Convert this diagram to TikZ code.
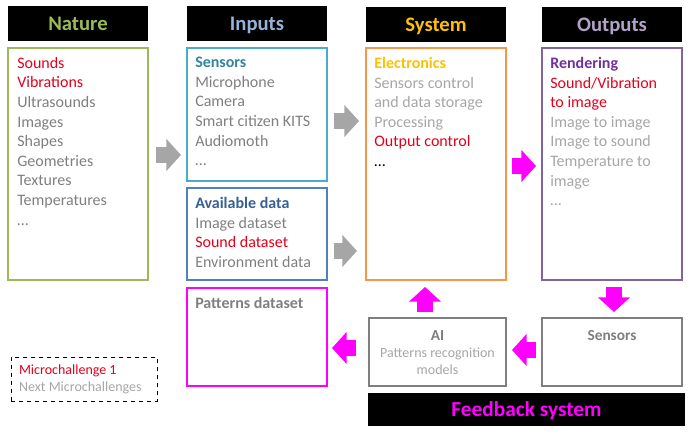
\documentclass[tikz,border=0pt]{standalone}
\usepackage{fontspec}
\setmainfont{Carlito}
\usetikzlibrary{positioning}
\usetikzlibrary{arrows.meta}
\definecolor{natgreen}{HTML}{9BBB59}
\definecolor{inhdr}{HTML}{95B3D7}
\definecolor{inblue}{HTML}{4BACC6}
\definecolor{inbluetxt}{HTML}{31859C}
\definecolor{datablue}{HTML}{4F81BD}
\definecolor{datatxt}{HTML}{376092}
\definecolor{sysorange}{HTML}{F79646}
\definecolor{sysyellow}{HTML}{FFC000}
\definecolor{outpurple}{HTML}{8064A2}
\definecolor{outtxt}{HTML}{7030A0}
\definecolor{outhdr}{HTML}{B3A2C7}
\definecolor{txtred}{HTML}{E3001A}
\definecolor{txtgray}{HTML}{7F7F7F}
\definecolor{txtlight}{HTML}{A6A6A6}
\definecolor{magen}{HTML}{FF00FF}
\tikzset{
    hdrnode/.style = {rectangle, fill=black, inner sep=0, minimum width=105pt, minimum height=26.25pt, text height=11pt, text depth=0pt, font=\fontsize{15.5}{17}\selectfont\bfseries},
    boxnode/.style = {rectangle, line width=1.5pt, inner sep=0, minimum width=105pt},
    listnode/.style = {anchor=north west, inner sep=0, align=left, text=txtgray, font=\fontsize{12}{14.7}\selectfont},
    edgeg/.style = {draw=txtlight, line width=11.5pt, -{Triangle[length=11pt,width=23.5pt]}},
    edgem/.style = {draw=magen, line width=12pt, -{Triangle[length=11pt,width=23.5pt]}}
}
\begin{document}
\begin{tikzpicture}[x=0.75pt, y=-0.75pt]
  \useasboundingbox (0,0) rectangle (693,437);
  % headers
  \node[hdrnode, text=natgreen] (hnature) at (78,23.5) {Nature};
  \node[hdrnode, text=inhdr] (hinputs) at (257,23.5) {Inputs};
  \node[hdrnode, text=sysyellow] (hsystem) at (436,24) {System};
  \node[hdrnode, text=outhdr] (houtputs) at (612,24.5) {Outputs};
  % boxes
  \node[boxnode, draw=natgreen, minimum height=174pt] (nature) at (78,164) {};
  \node[boxnode, draw=inblue, minimum height=99.75pt] (sensors) at (257,114.5) {};
  \node[boxnode, draw=datablue, minimum height=69pt] (avail) at (257,234) {};
  \node[boxnode, draw=magen, minimum height=73.5pt] (patterns) at (257,337) {};
  \node[boxnode, draw=sysorange, minimum height=174pt] (system) at (436,164) {};
  \node[boxnode, draw=outpurple, minimum height=174pt] (outputs) at (612,164) {};
  \node[boxnode, draw=txtgray, minimum width=102.75pt, minimum height=51pt] (ai) at (437.5,352) {};
  \node[boxnode, draw=txtgray, minimum height=51pt] (sensfb) at (612,352) {};
  \node[hdrnode, text=magen, minimum width=237.75pt, minimum height=24.75pt, font=\fontsize{16}{18}\selectfont\bfseries] (feedback) at (526.5,409.5) {Feedback system};
  \node[rectangle, draw=black, dashed, thin, minimum width=109.5pt, minimum height=33pt] (legend) at (84,379) {};
  % texts
  \node[listnode] (naturetxt) at ([shift={(10,10)}]nature.north west)
    {\textcolor{txtred}{Sounds}\\\textcolor{txtred}{Vibrations}\\Ultrasounds\\Images\\Shapes\\Geometries\\Textures\\Temperatures\\\ldots};
  \node[listnode] (sensorstxt) at ([shift={(9,10)}]sensors.north west)
    {\textcolor{inbluetxt}{\bfseries Sensors}\\Microphone\\Camera\\Smart citizen KITS\\Audiomoth\\\ldots};
  \node[listnode] (availtxt) at ([shift={(9,10)}]avail.north west)
    {\textcolor{datatxt}{\bfseries Available data}\\Image dataset\\\textcolor{txtred}{Sound dataset}\\Environment data};
  \node[listnode, font=\fontsize{12}{14.7}\selectfont\bfseries] (patternstxt) at ([shift={(9,10)}]patterns.north west)
    {Patterns dataset};
  \node[listnode, text=txtlight] (systemtxt) at ([shift={(9,10)}]system.north west)
    {\textcolor{sysyellow}{\bfseries Electronics}\\Sensors control\\and data storage\\Processing\\\textcolor{txtred}{Output control}\\\textcolor{black}{\ldots}};
  \node[listnode, text=txtlight] (outputstxt) at ([shift={(9,10)}]outputs.north west)
    {\textcolor{outtxt}{\bfseries Rendering}\\\textcolor{txtred}{Sound/Vibration}\\\textcolor{txtred}{to image}\\Image to image\\Image to sound\\Temperature to\\image\\\ldots};
  \node[listnode, anchor=north, align=center, text=txtlight, font=\fontsize{10.5}{12.75}\selectfont] (aitxt) at ([shift={(0,13)}]ai.north)
    {\textcolor{txtgray}{\fontsize{11.5}{12.75}\selectfont\bfseries AI}\\Patterns recognition\\models};
  \node[listnode, anchor=north, font=\fontsize{11.5}{12.75}\selectfont\bfseries] (sensfbtxt) at ([shift={(0,13)}]sensfb.north)
    {Sensors};
  \node[listnode, text=txtlight, font=\fontsize{10.5}{12.75}\selectfont] (legendtxt) at ([shift={(8,8)}]legend.north west)
    {\textcolor{txtred}{Microchallenge 1}\\Next Microchallenges};
  % arrows
  \draw[edgeg, shorten <=5.25pt, shorten >=3.75pt] (nature.east |- 0,155) -- (sensors.west |- 0,155);
  \draw[edgeg, shorten <=4.5pt, shorten >=4.5pt] (sensors.east |- 0,121) -- (system.west |- 0,121);
  \draw[edgeg, shorten <=4.5pt, shorten >=6pt] (avail.east |- 0,251) -- (system.west |- 0,251);
  \draw[edgem, shorten <=3.75pt, shorten >=3.75pt] (system.east |- 0,166) -- (outputs.west |- 0,166);
  \draw[edgem, shorten <=4.5pt, shorten >=3.75pt] (outputs.south -| 614,0) -- (sensfb.north -| 614,0);
  \draw[edgem, shorten <=3.75pt, shorten >=3.75pt] (sensfb.west |- 0,350) -- (ai.east |- 0,350);
  \draw[edgem, shorten <=3.75pt, shorten >=4.5pt] (ai.north -| 425,0) -- (system.south -| 425,0);
  \draw[edgem, shorten <=9pt, shorten >=3pt] (ai.west |- 0,348) -- (patterns.east |- 0,348);
\end{tikzpicture}
\end{document}
